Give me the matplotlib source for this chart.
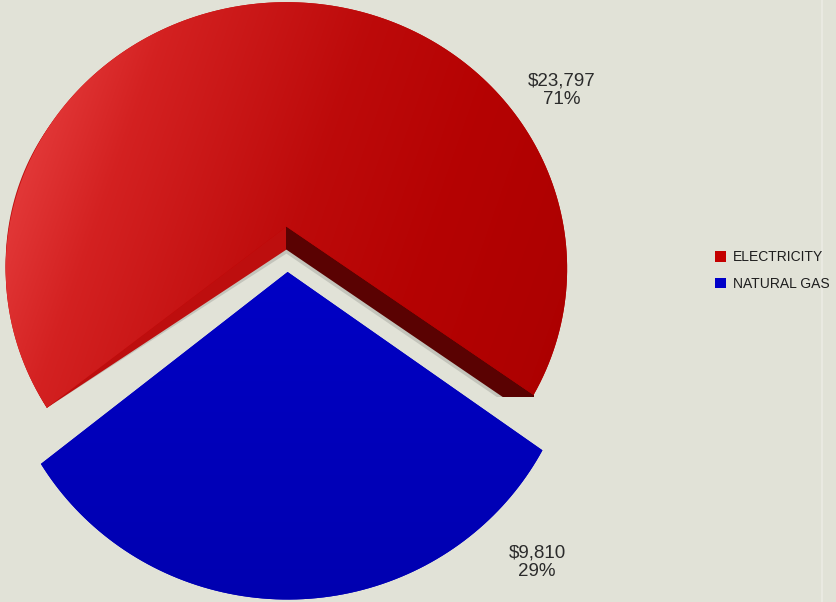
import numpy as np
import matplotlib.pyplot as plt
from matplotlib.patches import Wedge, Rectangle
from matplotlib.path import Path
from matplotlib.transforms import Affine2D, Transform

categories = ['ELECTRICITY', 'NATURAL GAS']
costs = [23797, 9810]
colors = ['#c40000', '#0000c8']

W, H = 837, 602
bg = '#e1e2d7'
plt.rcParams['font.family'] = ['Liberation Sans', 'DejaVu Sans']


class Tilt(Transform):
    """Perspective view of the unit pie, the far (upper) half shrunk."""
    input_dims = output_dims = 2

    def __init__(self, x0, y0, sx, sy, g):
        super().__init__()
        self.x0, self.y0, self.sx, self.sy, self.g = x0, y0, sx, sy, g

    def transform_non_affine(self, values):
        xy = np.asarray(values, dtype=float).reshape(-1, 2)
        w = 1 + self.g * xy[:, 1]
        return np.column_stack([self.x0 + self.sx * xy[:, 0] / w,
                                self.y0 + self.sy * xy[:, 1] / w])

    def transform_path_non_affine(self, path):
        t = np.linspace(0, 1, 24)
        verts = np.concatenate([seg(t) for seg, _ in path.iter_bezier()])
        return Path(self.transform_non_affine(verts), closed=True)


fig = plt.figure(figsize=(W / 100, H / 100), dpi=100, facecolor=bg)
ax = fig.add_axes([0, 0, 1, 1])
ax.set_facecolor(bg)

tilt = Tilt(287, H - 249, 281, 267, 0.16)
depth = 23

wedges, _ = ax.pie(costs, colors=colors, startangle=324, explode=[0.085, 0.085],
                   wedgeprops=dict(linewidth=0))
for w in wedges:
    w.set_transform(tilt + ax.transData)

red = wedges[0]
cxy = np.array(red.center, dtype=float)
apex = tilt.transform_non_affine(cxy)[0]


def rim_point(theta):
    rad = np.radians(theta)
    return tilt.transform_non_affine(cxy + [np.cos(rad), np.sin(rad)])[0]


def side_face(extra, color, z, clip):
    face = Wedge(red.center, red.r, red.theta1, red.theta2, facecolor=color,
                 linewidth=0, zorder=z, transform=tilt + extra + ax.transData)
    ax.add_patch(face)
    face.set_clip_path(Rectangle(clip[:2], clip[2], clip[3], transform=ax.transData))


# right cut edge: dark face dropped straight down, with a soft grey shadow under it
end_r = rim_point(red.theta1)
right_clip = (apex[0], end_r[1] - 2, end_r[0] - apex[0], H)
side_face(Affine2D().translate(0, -depth - 4), '#c3c4bb', 0.4, right_clip)
side_face(Affine2D().translate(0, -depth), '#5a0202', 0.5, right_clip)

# left cut edge: red face narrowing toward the rim
end_l = rim_point(red.theta2)
left_clip = (0, 0, apex[0], H)
for d, col, z in [(depth + 4, '#c3c4bb', 0.4), (depth, '#bd0e0e', 0.5)]:
    k = d / (end_l[0] - apex[0])
    shear = Affine2D().skew(0, np.arctan(k)).translate(0, -k * end_l[0])
    side_face(shear, col, z, left_clip)

# shading across each slice
gx, gy = np.meshgrid(np.linspace(0, W, 300), np.linspace(0, H, 220))
s = np.clip((gx - 0.35 * gy + 150) / 700, 0, 1)
stops = [0, 0.16, 0.45, 0.65, 1]
red_rgb = np.dstack([np.interp(s, stops, [0.90, 0.83, 0.74, 0.71, 0.66]),
                     np.interp(s, stops, [0.24, 0.13, 0.04, 0.01, 0.0]),
                     np.interp(s, stops, [0.24, 0.13, 0.04, 0.01, 0.0])])
im = ax.imshow(red_rgb, extent=(0, W, 0, H), origin='lower', zorder=1.5,
               interpolation='bilinear')
im.set_clip_path(wedges[0])

t = np.clip((H - gy) / H, 0, 1)
blue_rgb = np.dstack([np.zeros_like(t), np.zeros_like(t),
                      np.interp(t, [0.4, 1], [0.78, 0.69])])
im2 = ax.imshow(blue_rgb, extent=(0, W, 0, H), origin='lower', zorder=1.5,
                interpolation='bilinear')
im2.set_clip_path(wedges[1])

# value labels
total = sum(costs)
label_pos = [(562, H - 90), (537, H - 562)]
for v, (x, y) in zip(costs, label_pos):
    ax.text(x, y, f'${v:,}\n{v / total * 100:.0f}%', ha='center', va='center',
            fontsize=13.5, color='#2b2b2b', linespacing=1.1, zorder=3)

ax.axvline(822, color='#ebebe4', linewidth=1.2, zorder=0.2)

ax.set_xlim(0, W)
ax.set_ylim(0, H)
ax.set_aspect('auto')
ax.axis('off')

fig.legend(wedges, categories, loc='center left',
           bbox_to_anchor=(715 / W, 1 - 270.5 / H), frameon=False,
           fontsize=10, handlelength=0.8, handleheight=0.8,
           handletextpad=0.5, labelspacing=0.9, borderpad=0,
           borderaxespad=0, labelcolor='#1e1e1e')

fig.savefig('out.png', dpi=100, facecolor=bg)
